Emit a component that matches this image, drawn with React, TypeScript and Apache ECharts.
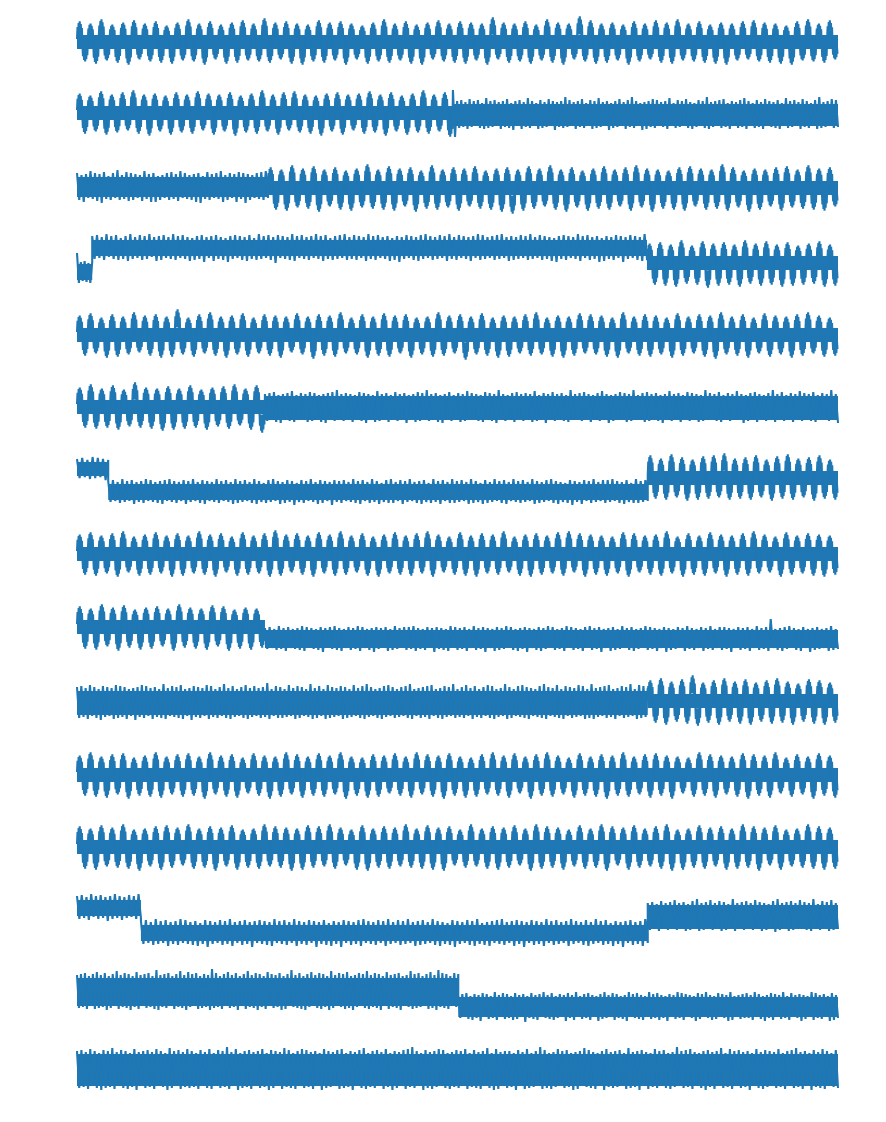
import { useEffect, useRef } from "react";
import * as echarts from "echarts";

// Each segment: [kind, from, to, level, spread, samples]
// samples: one letter per extremum; lowercase = above the level, uppercase = below,
// letter position = magnitude (a/A = 0 ... z/Z = 25). "osc" segments hold peak/trough pairs.
type Seg = [string, number, number, number, number, string];

const trace01: Seg[] = [
  ["osc", 0, 1000, 0, 7,
    "uTsVwSrUtWvRsTuUqVtS" + "wTsWuRrVtUvSsTxUtRuV" + "sWrTvUtSuWsRqVtTwUsS" + "uVrWtRvTsUuVtSsWyRtU" +
    "sTuVrSwUtWsRzTvVsUtS" + "rWuTsRvUtVwSsTuUrVtW" + "sSuRvTtUsVqWuSwTsUvR"],
];
const trace02: Seg[] = [
  ["osc", 0, 494, 0, 7,
    "tUrSvVsTuRwUsWtSrVuT" + "sUvRtVsSuWrTtUwSsVuR" + "vTsUrWtSuVsRtUvTsWuS" + "rVtTwUsSuX"],
  ["noise", 494, 1000, -2, 11,
    "zWoNpMnOqMoLpNmOrNoMpLnOoMqNmPoLpOnMrNoLmOpNnMqLoPnMoNsMpLnOoMqNmLpOoNrMnLoPmNoMqLnOpMsNoLmPnOoMqNpLnMoOrLmNpMoLqNnOmMpLoNsOnMoLpNqMmOoLnNpMrOoLmNpMnOqLoMnNpOmLrNoMpLnOqMoNmLpOsNnMoLqNpM"],
];
const trace03: Seg[] = [
  ["noise", 0, 251, 0, 10,
    "oNmPnLqMoOnQpMlNoLrNmMpOoNnLmOqMnPoPlNmLoNpMnOqLoMmNnPoQlMpNnLoMqPmNoLnPpMoQnNmLoMpNqL"],
  ["osc", 251, 1000, -1, 7,
    "uVsWwTtUvXsSuVrWtTxU" + "sVvWtSuXrUwVsTuWtSvU" + "rVtXuZsWvUtSwVsXuTrW" + "tUvVsSuWwTtXsUrVuWvS" +
    "tVsUxWuTrXtVsSuWvT" + "sUwVtWuS"],
];
const trace04: Seg[] = [
  ["noise", 0, 20, -12, 8, "tLkJlKjLk"],
  ["noise", 20, 749, 12, 8,
    "mLnKlMoJmLnMkLmNoLlKnMmLoJlNmMnKlLoMmKnLlNkMmLnOlKmNnLlMkOmLnKmMlNnLkMoLmKnMlPnKmLlMoNmKnLlMmKoLmNnLkMmLnKoMlLnMmKlNoLmMnKlLmNkMmOlLnKmMlNnLoKmMlLnKmNoLlMnKmLlNmKoMnLlKmMnLoKlNmMlLnKmMoLlKnMmLlNkOmLnMmKlLoNmKnMlLmOkNmLlMnKmOlLnKmMlNoL"],
  ["osc", 749, 1000, -3, 7, "tVuWsXwUrVvYtWuVsX" + "wUtWvVsXuWrVtUvXsW"],
];
const trace05: Seg[] = [
  ["osc", 0, 1000, 0, 7,
    "tUvSrWuVsTwRtUuWsVzT" + "rVuSwUsWtTvVrSuUtWsR" + "vTsXuUtVwSrTuWsUvVtS" + "uWrTsVwUtSuYsTvUrWtV" +
    "sSuUwTrVtWsUvSuTtVrW" + "wSsUuVtTrWvUsSuVtXwT" + "sUuWrSvVtTsWuUwStVrU"],
];
const trace06: Seg[] = [
  ["osc", 0, 247, 0, 7, "tUwVsUvWrTyUtVsXuW" + "sVvUrWtTuVwSsWvZ"],
  ["noise", 247, 1000, -1, 12,
    "oNpMqOnPoMpNrOnMpLoOqNpMnOoPpMqNsMoNpLoOnMqNpPoMnOrNoMpOnLqNoMpPnMoOqNpMsNoLpOnPoMqNnMpOoNrMpLoNnOqMpNoPsMoNnMpOqLoNpMoOrNnMpPoMqNoLpNnOsMoMpNqLoOnMpNrMoPnNoMqLpOoNsMnMpOqNoLpNnPoMrNoMpOnLqNpMoOnNsMpLoNqOnMpNoMrLoPnNpMqOoMnNpLsOoMqNnMpOoLrNpMoNqOnMpLoNsMoP"],
];
const trace07: Seg[] = [
  ["noise", 0, 41, 11, 7, "kJlIjKmJlIkLj"],
  ["noise", 41, 750, -12, 8,
    "lKmJkLnKlJmMkKlLnJmKkLlMmJnKlLkJmMlKnJkLmMlJkKnLlJmKkMnLlKmJkLnMlKjLmKnJlMkLmKlNjKmLlJnKkMmLlJkNmKlLmJkKnLlMmJkLnKlMjKmLnLkJmMlKnJkLlMmKjLnKlMmJkLnLlKmJkMnLlKjMmLkKnJlLmMkJnKlLmKkJnMlLkKmJnLlMkKjLmNlKkMmJlLnKkJmLmKnJlLkMmKjLnLlKmJ"],
  ["osc", 750, 1000, 2, 7, "wUtVxTuWsVvUwTyVtU" + "uVwTsWvUxVtTuWwUsV"],
];
const trace08: Seg[] = [
  ["osc", 0, 1000, 0, 7,
    "tUvVsTuWwSrVtUvTsWuV" + "sTwUtWuSrVvUsTuWxVtS" + "uUsWvTtVwUsSuVrWtTvU" + "sVuTwWtSrUvVsWuTtUwS" +
    "rVtWuUsTvVwSuWtUsVrT" + "vWuSsUtVwTrWuUsVvTtW" + "sUuVwTtSrWvUsTuVtWsU"],
];
const trace09: Seg[] = [
  ["osc", 0, 247, 3, 7, "uVsWwTtXvUrWtVuTsX" + "wUtVsWvTuXrVtWsU"],
  ["noise", 247, 1000, -9, 9,
    "lKmJkLnKlMmJkKlLnMmJlKkLmNlJmKnLlMkJmLlKnMmJkLlNmKlJmMkLnKlJmLmKnMlKkLmJlNmKlLkMnJmLlKmMkJnLlKmNlJkMmLlKnJmLkMlKmNlJkLmMlKnJmLkKlMnJmLlKkMmJnLlKmNkJlMmLkKnJlLmMkKlJnLmKlMkJmNlLkKmJlMnKlLkJmMlKnLkJmLmKlNkJmLlKmMkJnLlKmMuJkLlMmKnJlLkMmJkNlLmKkJlMnLkK"],
];
const trace10: Seg[] = [
  ["noise", 0, 750, 0, 12,
    "qPrOpQsNqPoRrOqNpQsPrOqQoNpRqOsPrNpQqOoPtQpNrOqPsQoNpRrOqPpNsQrOoPqNtPpQrOoNqPsQpOrNpPqOuQoNrPqPoOsNpQrPqNoOtQpPrNoQsPqOpNrQqPoOsNpPrQtOqNoPpQrOsNqPoOqNrPtQoNpPqOrQsNoPpQrOqNtPoOqPsNpQrOoPqNsPrQoOpNtQqPoNrOsPqQpNoOrPtQqNpOsPoQrNqPpOsNrQoPtQpOqNrPsOoQpNrPqOtNoQsPrOp"],
  ["osc", 750, 1000, 2, 7, "uVwXtUvWzYsVuXwUtW" + "vXsUuWwVtXrUvWuXsV"],
];
const trace11: Seg[] = [
  ["osc", 0, 1000, 0, 7,
    "tUwVsWuTvXrUtVwWsTuV" + "vUsXwTtVuWrSvUtXsVwT" + "uWsUvVtTwXsUrWuVtSvU" + "sWwTuVtXvUsWrVuTwUtW" +
    "vSsXuUwVtTrWvUsVuXtU" + "wVsTuWvUtXsSrVwUuWtT" + "sVvXuUtWwSrVuTsXvUtW"],
];
const trace12: Seg[] = [
  ["osc", 0, 1000, 0, 7,
    "uVsWvTtUwVrXsTuWvUtS" + "wVsUuXtTvWrUsVwTuUtX" + "sWvUuTwVtSrWvXsUuVtT" + "wUsVvWtXuSrUwTsVuWtU" +
    "vSsXwVuUtWrTvVsUwXuS" + "tWvUsTuVwXrWsUvVtTuW" + "sVwUuXtSvWrTsUwVuWtV"],
];
const trace13: Seg[] = [
  ["noise", 0, 84, 12, 8, "mLnKlMoJmLnKlNmLoKmMlKnJmLoK"],
  ["noise", 84, 750, -13, 8,
    "mLnKlMoLmKnNlLmMoKnLlMmNkLnOmLlKnMmLoNlKmMnLlOmKnLmMlNoKmLnMlKoNmLlMnKmOlLnMkNmLlOnKmMlLnNoKmLlMnKmNoLlKnMmLoKlNmMnLlKoMmNlLkMnOmLlKnMmNoLkMlNmKnLoMlKmNnLmOlKnMmLlNoKmMnLlKmNoLmKlMnNlLoKmMnLkNmLlOmKnMlLmNoK"],
  ["noise", 750, 1000, 3, 12,
    "oNpMnOqMoNpLrNoMpOnNqMsOoNpMrNoLqOpNnMsOoMpNqLoNrMpOoNnMqPsNoMpOqNoLrMpNoOsMnNqMpOrNoM"],
];
const trace14: Seg[] = [
  ["noise", 0, 501, 8, 14,
    "rQsPtRqOsRuQrPtSqQsOvRrPtQsSqPuRrOsQtPqRwSrPsQtOqRsPvQrSuPsOtRqQsPrSxQtPqRsOuQrPtSqOsRvPrQtSsPqRuOsQrPtSqRsOwPrQtRqSsPuOrQtRsPqSvQrOtPsRuQqSrPtOsQvRrPtQsSqOuRrPsQtSqOrPvRsQtPqOsRuQrSwPtQsRqOtPs"],
  ["noise", 501, 1000, -7, 10,
    "mLnKoMlNnLmOoKnMlLpNmKoMnLlNoMmKnPlLoMmNnKpLmMoNlLnKmOoLmNpKlMnLoNmKlOnMpLmKoNnLlMmOpKnLoMmNlKpMnLoNmLlOnKmMpLoNnKmLlOoMnKpLmNlMoKnLmOpNlKmMnLoLmNpKnMlOmLoNnKmMpLlNoKmLnOmMlKpNoLmMnKlOoNmL"],
];
const trace15: Seg[] = [
  ["noise", 0, 1000, -2, 16,
    "tSuRsTvQtSrUuStRwTsQuStTrRvUsQtSuRsTvQtRrUwStQuTsRvStRrTuQsSvTrQuStRxTsQvUrStRuTsQtSvRrUuStQsTwRuSrTtQvSuRsTtQrUvStRsQuTvSrRtUsQuSwTrRtSuQsTvRrUtSsQuTvRxStQrUuSsTtRvQuSrTsRuStQvTrRuSsTtQwSrUvTsQtStRrUuQsTvSrRtQxTuSrTsRvQtSuRrUsTtQwRuSsTrQtUvRsStRuQrTwSsRtUuQsTrRvStQuSrTsRxQtSuRvTsQrStUuRsTtQwSrRvTtQuSsRtUrQvSsTuRtQsSvRrTtQuSwRsTtQrUuRsSvTtQrRuS"],
];

const traces: Seg[][] = [
  trace01, trace02, trace03, trace04, trace05, trace06, trace07, trace08,
  trace09, trace10, trace11, trace12, trace13, trace14, trace15,
];

// ---- layout / style (not data) ----
const BLUE = "#1f77b4";
const panelCentres = [42, 113, 187, 260, 335, 407, 480, 554, 630, 703, 775, 847, 920, 1000, 1068];
const PANEL_H = 72;
const MID = PANEL_H / 2;
const LEFT = 77;
const RIGHT = 48;
const LINE_W = 2.1;
// drawing shape of one half-wave (fractions of the read extremum): strokes run from the core up to
// the extremum and back, so each tooth is a solid, jagged body joined to the core
const HALF_WAVE = [0.15, 0.75, 0.3, 0.95, 0.35, 1.03, 0.3, 0.9, 0.25, 0.7];

function magnitude(ch: string): number {
  const c = ch.charCodeAt(0);
  return c >= 97 ? c - 97 : -(c - 65);
}

function signalPoints(trace: Seg[]): number[][] {
  const pts: number[][] = [];
  for (const [kind, x0, x1, lvl, , s] of trace) {
    if (kind === "osc") {
      const n = s.length / 2;
      const period = (x1 - x0) / n;
      const h = HALF_WAVE.length;
      for (let k = 0; k < n; k++) {
        const p = magnitude(s[2 * k]);
        const t = magnitude(s[2 * k + 1]);
        HALF_WAVE.forEach((f, j) => pts.push([x0 + (k + j / (2 * h)) * period, MID + lvl + p * f]));
        HALF_WAVE.forEach((f, j) => pts.push([x0 + (k + (j + h) / (2 * h)) * period, MID + lvl + t * f]));
      }
    } else {
      const n = s.length;
      for (let i = 0; i < n; i++) {
        pts.push([x0 + (i * (x1 - x0)) / (n - 1), MID + lvl + magnitude(s[i])]);
      }
    }
  }
  return pts;
}

export default function App() {
  const ref = useRef<HTMLDivElement>(null);
  useEffect(() => {
    if (!ref.current) return;
    const chart = echarts.init(ref.current, undefined, { renderer: "svg" });
    const grid: any[] = [];
    const xAxis: any[] = [];
    const yAxis: any[] = [];
    const series: any[] = [];
    traces.forEach((trace, i) => {
      grid.push({ left: LEFT, right: RIGHT, top: panelCentres[i] - MID, height: PANEL_H });
      xAxis.push({ type: "value", gridIndex: i, min: 0, max: 1000, show: false });
      yAxis.push({ type: "value", gridIndex: i, min: 0, max: PANEL_H, show: false });
      // dense core of each segment: a flat band whose thickness is the segment's spread
      trace.forEach(([, x0, x1, lvl, spread]) => {
        series.push({
          type: "line", xAxisIndex: i, yAxisIndex: i, symbol: "none", silent: true,
          lineStyle: { color: BLUE, width: spread * 2, cap: "butt" },
          data: [[x0, MID + lvl], [x1, MID + lvl]],
        });
      });
      series.push({
        type: "line", xAxisIndex: i, yAxisIndex: i, symbol: "none", silent: true,
        lineStyle: { color: BLUE, width: LINE_W },
        data: signalPoints(trace),
      });
    });
    chart.setOption({ animation: false, grid, xAxis, yAxis, series });
    return () => chart.dispose();
  }, []);
  return (
    <div
      ref={ref}
      style={{ position: "absolute", left: 0, top: 0, width: 886, height: 1122, background: "#fff" }}
    />
  );
}
